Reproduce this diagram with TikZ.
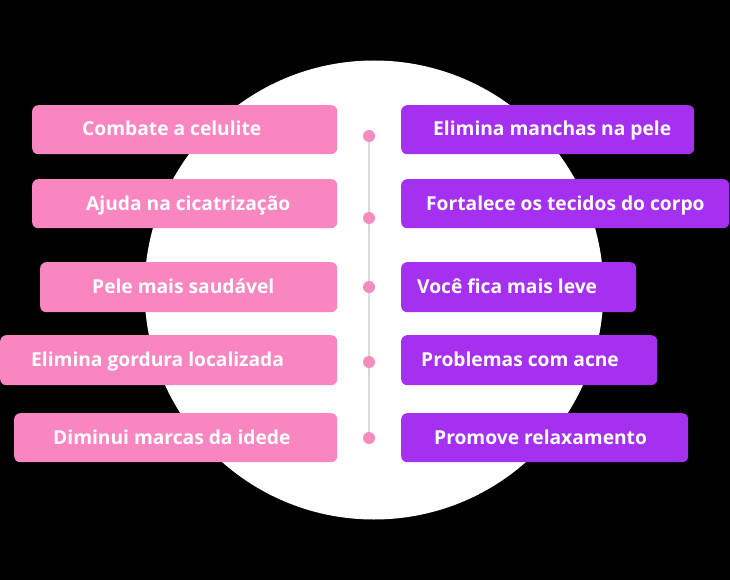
\documentclass[tikz,border=0pt]{standalone}
\usepackage{fontspec}
\setmainfont{Open Sans}
\usetikzlibrary{backgrounds}
\definecolor{pinkc}{RGB}{249,134,192}
\definecolor{purplec}{RGB}{166,48,240}
\definecolor{dotc}{RGB}{244,140,190}
\definecolor{linec}{RGB}{218,218,218}
\begin{document}
\begin{tikzpicture}[x=1pt,y=-1pt,
  box/.style={rounded corners=6pt, inner sep=0pt, draw=none, anchor=north west},
  pinkbox/.style={box, fill=pinkc},
  purplebox/.style={box, fill=purplec},
  lbl/.style={text=white, font=\fontsize{19.2}{22}\selectfont\bfseries, inner sep=0pt, anchor=base west},
  dotnode/.style={circle, fill=dotc, minimum size=12pt, inner sep=0pt},
  spine/.style={draw=linec, line width=1.4pt}
]
\useasboundingbox (0,0) rectangle (730,580);
% left boxes
\node[pinkbox, minimum width=305pt, minimum height=49pt] (L1) at (32,105) {};
\node[pinkbox, minimum width=305pt, minimum height=49pt] (L2) at (32,179) {};
\node[pinkbox, minimum width=297pt, minimum height=50pt] (L3) at (40,262) {};
\node[pinkbox, minimum width=337pt, minimum height=50pt] (L4) at (0,335) {};
\node[pinkbox, minimum width=323pt, minimum height=49pt] (L5) at (14,413) {};
% right boxes
\node[purplebox, minimum width=293pt, minimum height=49pt] (R1) at (401,105) {};
\node[purplebox, minimum width=328pt, minimum height=49pt] (R2) at (401,179) {};
\node[purplebox, minimum width=235pt, minimum height=50pt] (R3) at (401,262) {};
\node[purplebox, minimum width=256pt, minimum height=50pt] (R4) at (401,335) {};
\node[purplebox, minimum width=287pt, minimum height=49pt] (R5) at (401,413) {};
% labels
\node[lbl] (tL1) at (82,136) {Combate a celulite};
\node[lbl] (tL2) at (86,210) {Ajuda na cicatrização};
\node[lbl] (tL3) at (92,293.5) {Pele mais saudável};
\node[lbl] (tL4) at (31,366.5) {Elimina gordura localizada};
\node[lbl] (tL5) at (53,444) {Diminui marcas da idede};
\node[lbl] (tR1) at (433,136) {Elimina manchas na pele};
\node[lbl] (tR2) at (426,210) {Fortalece os tecidos do corpo};
\node[lbl] (tR3) at (417,293.5) {Você fica mais leve};
\node[lbl] (tR4) at (421,366.5) {Problemas com acne};
\node[lbl] (tR5) at (434,444) {Promove relaxamento};
% dots
\node[dotnode] (d1) at (369,136) {};
\node[dotnode] (d2) at (369,218) {};
\node[dotnode] (d3) at (369,287) {};
\node[dotnode] (d4) at (369,362) {};
\node[dotnode] (d5) at (369,438) {};
\begin{pgfonlayer}{background}
\fill[black] (0,0) rectangle (730,580);
\fill[white] (374,290) circle (229.5);
\draw[spine] (d1.center) -- (d5.center);
\end{pgfonlayer}
\end{tikzpicture}
\end{document}
